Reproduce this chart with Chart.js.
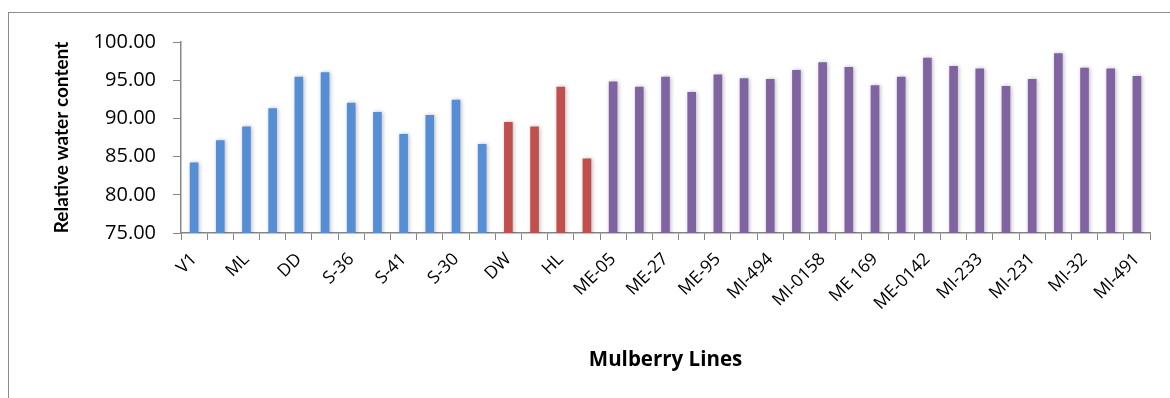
<!DOCTYPE html>
<html>
<head>
<meta charset="utf-8">
<script src="https://cdn.jsdelivr.net/npm/chart.js@4.4.0/dist/chart.umd.min.js"></script>
<style>
    body { margin: 0; background: #fff; }
    #wrap { position: relative; width: 1170px; height: 398px; overflow: hidden; }
    #frame { position: absolute; left: 8px; top: 12px; width: 1200px; height: 420px; border-left: 1.5px solid #8c8c8c; border-top: 1.5px solid #8c8c8c; }
    canvas { position: absolute; left: 0; top: 0; }
</style>
</head>
<body>
<div id="wrap">
    <div id="frame"></div>
    <canvas id="myChart" width="1170" height="398"></canvas>
</div>
<script>
// only every second line is labelled on the original axis
const lineLabels = ['V1', '', 'ML', '', 'DD', '', 'S-36', '', 'S-41', '', 'S-30', '', 'DW', '', 'HL', '',
    'ME-05', '', 'ME-27', '', 'ME-95', '', 'MI-494', '', 'MI-0158', '', 'ME 169', '', 'ME-0142', '',
    'MI-233', '', 'MI-231', '', 'MI-32', '', 'MI-491'];

const blueValues = [84.2, 87.1, 88.9, 91.3, 95.4, 96.0, 92.0, 90.8, 87.9, 90.4, 92.4, 86.6];
const redValues = [89.5, 88.9, 94.1, 84.7];
const purpleValues = [94.8, 94.1, 95.4, 93.4, 95.7, 95.2, 95.1, 96.3, 97.3, 96.7, 94.3,
    95.4, 97.9, 96.8, 96.5, 94.2, 95.1, 98.5, 96.6, 96.5, 95.5];

const yTicks = [75, 80, 85, 90, 95, 100];

const values = blueValues.concat(redValues, purpleValues);
const colors = values.map((v, i) => {
    if (i < blueValues.length) return '#558ed5';
    if (i < blueValues.length + redValues.length) return '#c0504d';
    return '#8064a2';
});

const barShadow = {
    id: 'barShadow',
    beforeDatasetDraw(chart) {
        const ctx = chart.ctx;
        ctx.save();
        ctx.shadowColor = 'rgba(0,0,0,0.28)';
        ctx.shadowBlur = 4;
        ctx.shadowOffsetX = 1;
        ctx.shadowOffsetY = 0;
    },
    afterDatasetDraw(chart) {
        chart.ctx.restore();
    }
};

const axisGray = '#868686';
const font = 'Open Sans';

new Chart(document.getElementById('myChart'), {
    type: 'bar',
    data: {
        labels: lineLabels,
        datasets: [{
            data: values,
            backgroundColor: colors,
            borderWidth: 0,
            barThickness: 8,
        }],
    },
    options: {
        responsive: false,
        animation: false,
        events: [],
        layout: { padding: { left: 50, top: 42, right: 20, bottom: 0 } },
        plugins: {
            legend: { display: false },
            tooltip: { enabled: false },
        },
        scales: {
            x: {
                offset: true,
                grid: {
                    offset: true,
                    drawOnChartArea: false,
                    drawTicks: true,
                    tickLength: 7,
                    color: axisGray,
                },
                border: { color: axisGray, width: 1.5 },
                ticks: {
                    autoSkip: false,
                    minRotation: 45,
                    maxRotation: 45,
                    padding: 9,
                    color: '#000',
                    font: { family: font, size: 17.5 },
                },
                title: {
                    display: true,
                    text: 'Mulberry Lines',
                    color: '#000',
                    font: { family: font, size: 20.5, weight: 'bold' },
                    padding: { top: 0, bottom: 26 },
                },
                afterFit(scale) { scale.height = 165; },
            },
            y: {
                min: 75,
                max: 100,
                afterBuildTicks(scale) { scale.ticks = yTicks.map(v => ({ value: v })); },
                grid: {
                    drawOnChartArea: false,
                    drawTicks: true,
                    tickLength: 8,
                    color: axisGray,
                },
                border: { color: axisGray, width: 1.5 },
                ticks: {
                    padding: 17,
                    color: '#000',
                    font: { family: font, size: 20 },
                    callback: v => v.toFixed(2),
                },
                title: {
                    display: true,
                    text: 'Relative water content',
                    color: '#000',
                    font: { family: 'Lato', size: 19, weight: 'bold' },
                    padding: { top: 0, bottom: 0 },
                },
                afterFit(scale) { scale.width = 131; },
            },
        },
    },
    plugins: [barShadow],
});
</script>
</body>
</html>
